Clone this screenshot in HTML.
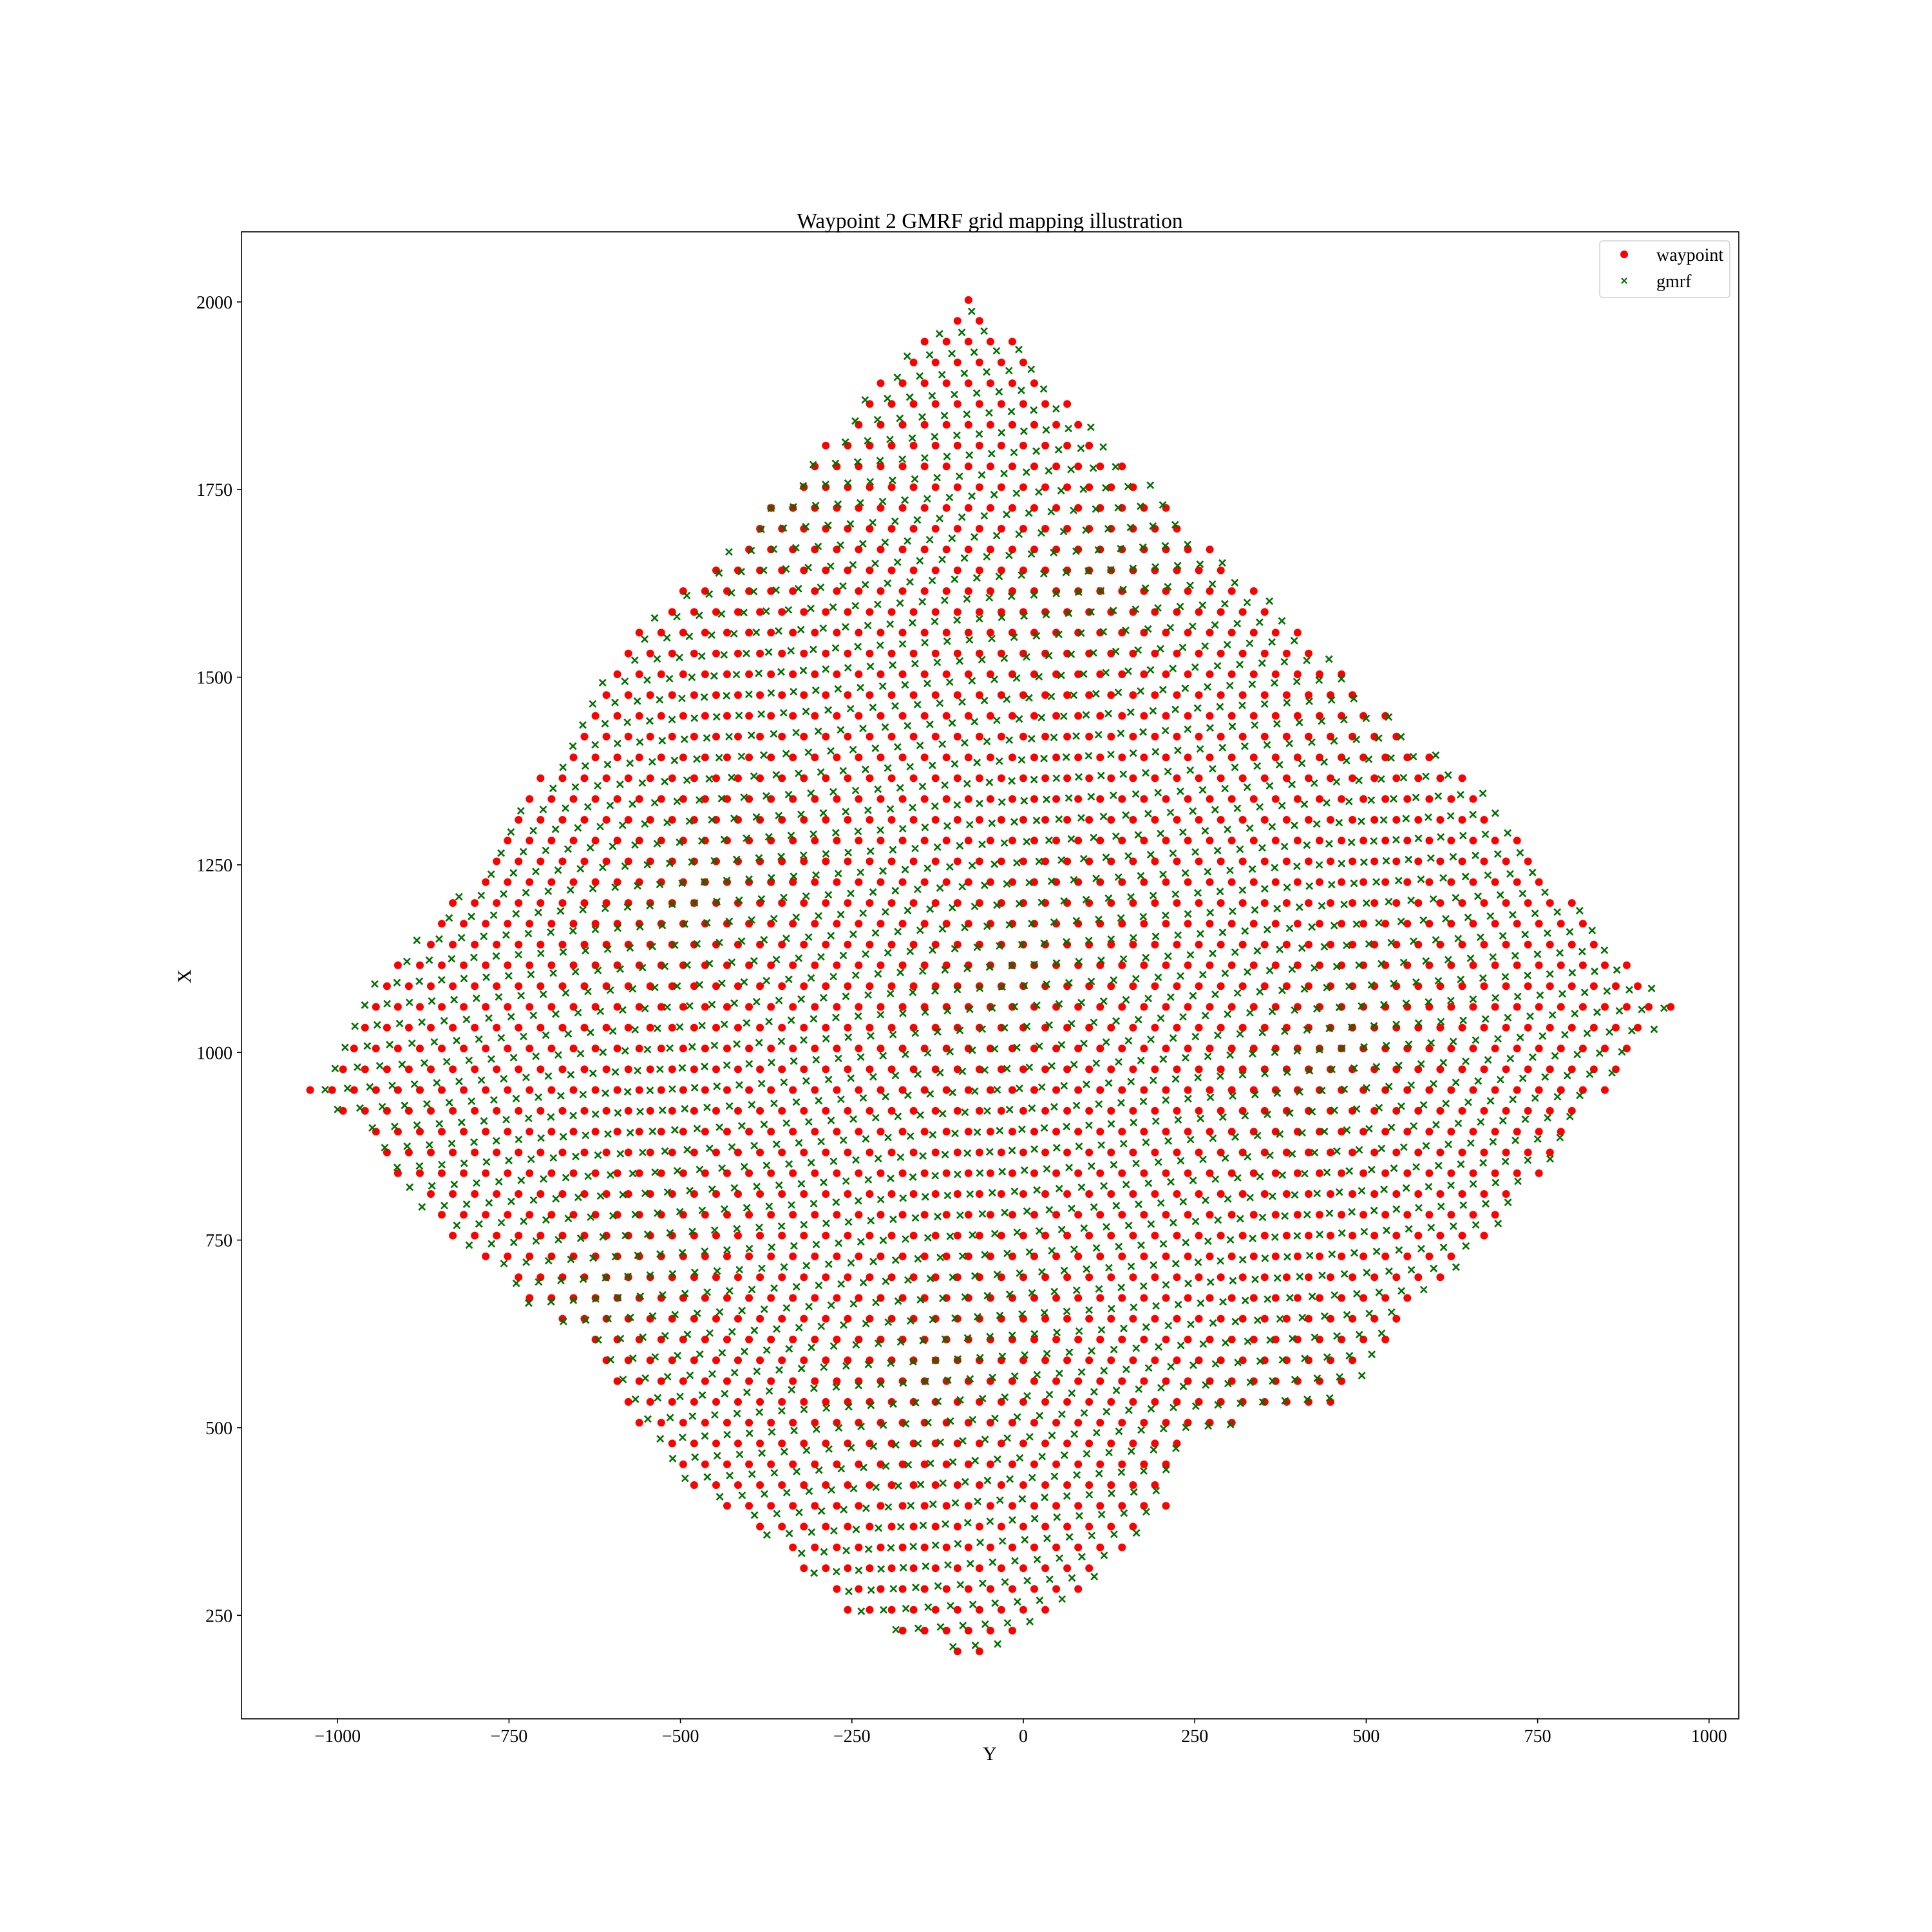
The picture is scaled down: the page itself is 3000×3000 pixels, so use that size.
<!DOCTYPE html>
<html><head><meta charset="utf-8"><style>
html,body{margin:0;padding:0;background:#fff;}
svg{display:block;font-family:"Liberation Serif","DejaVu Serif",serif;}
</style></head><body>
<svg id="chart" width="3000" height="3000" viewBox="0 0 3000 3000" xmlns="http://www.w3.org/2000/svg">
<rect x="0" y="0" width="3000" height="3000" fill="#fff"/>
<text x="1537" y="354" font-size="33.5" text-anchor="middle">Waypoint 2 GMRF grid mapping illustration</text>
<g id="marks"></g>
<g id="axes"></g>
<rect x="375" y="360" width="2325" height="2309" fill="none" stroke="#000" stroke-width="1.6"/>
<text x="1537" y="2733" font-size="30" text-anchor="middle">Y</text>
<text x="296" y="1516" font-size="30" text-anchor="middle" transform="rotate(-90 296 1516)">X</text>
<g>
<rect x="2484" y="374" width="202" height="88" rx="5" fill="#fff" fill-opacity="0.8" stroke="#d0d0d0" stroke-width="1.5"/>
<circle cx="2522" cy="395" r="6" fill="#ff0000"/>
<text x="2572" y="405" font-size="28">waypoint</text>
<path d="M2518 432 l8 8 M2526 432 l-8 8" stroke="#007000" stroke-width="2.2"/>
<text x="2572" y="446" font-size="28">gmrf</text>
</g>
</svg>
<script>
// Axis tick values
const xTicks = [-1000, -750, -500, -250, 0, 250, 500, 750, 1000];
const yTicks = [250, 500, 750, 1000, 1250, 1500, 1750, 2000];
// Region boundary (Y, X), going around the diamond
const boundaryY = [-80,-252,-414,-536,-648,-738,-845,-953,-1007,-1045,-971,-863,-738,-648,-594,-504,-396,-306,-252,-100,-62,71,125,215,215,269,377,466,538,592,700,826,950,844,754,664,556,466,386,287,197,125,71,-1,-55];
const boundaryX = [2010,1852,1680,1593,1450,1319,1187,1089,987,949,892,777,678,613,547,432,366,301,252,195,195,268,317,399,449,498,514,531,629,678,777,925,1061,1155,1253,1352,1434,1516,1581,1664,1746,1811,1861,1934,1992];
// Waypoint lattice parameters (units)
const wpRowStart = [202];
const wpRowStep = [27.7];
const wpColStep = [32];
const wpColOrigin = [-96];
// gmrf lattice parameters
const gmRowStep = [27.3];
const gmColStep = [32.6];
const gmAngleDeg = [3.5];

const L=375,R=2700,T=360,B=2669;
function sx(v){return 1589 + v*1.0648;}
function sy(v){return 2508.3 - (v-250)*1.1654;}
const NS='http://www.w3.org/2000/svg';
function inside(y,x){
  let c=false;const n=boundaryY.length;
  for(let i=0,j=n-1;i<n;j=i++){
    const yi=boundaryY[i],xi=boundaryX[i],yj=boundaryY[j],xj=boundaryX[j];
    if(((xi>x)!=(xj>x)) && (y < (yj-yi)*(x-xi)/(xj-xi)+yi)) c=!c;
  }
  return c;
}
const axes=document.getElementById('axes');
xTicks.forEach(t=>{
  const l=document.createElementNS(NS,'line');
  l.setAttribute('x1',sx(t));l.setAttribute('x2',sx(t));l.setAttribute('y1',B);l.setAttribute('y2',B+7);
  l.setAttribute('stroke','#000');l.setAttribute('stroke-width','1.6');
  
  
  axes.appendChild(l);
  const tx=document.createElementNS(NS,'text');
  tx.setAttribute('x',sx(t));tx.setAttribute('y',B+36);tx.setAttribute('font-size','28');tx.setAttribute('text-anchor','middle');
  tx.textContent=(t<0?'\u2212'+(-t):String(t));
  
  
  axes.appendChild(tx);
});
yTicks.forEach(t=>{
  const l=document.createElementNS(NS,'line');
  l.setAttribute('x1',L-7);l.setAttribute('x2',L);l.setAttribute('y1',sy(t));l.setAttribute('y2',sy(t));
  l.setAttribute('stroke','#000');l.setAttribute('stroke-width','1.6');
  
  
  axes.appendChild(l);
  const tx=document.createElementNS(NS,'text');
  tx.setAttribute('x',L-14);tx.setAttribute('y',sy(t)+10);tx.setAttribute('font-size','28');tx.setAttribute('text-anchor','end');
  tx.textContent=String(t);
  
  
  axes.appendChild(tx);
});
const marks=document.getElementById('marks');
let dots='';
for(let k=0;k<70;k++){
  const x=wpRowStart[0]+k*wpRowStep[0];
  const off=wpColOrigin[0]+(k%2)*wpColStep[0]/2;
  for(let j=-40;j<40;j++){
    const y=off+j*wpColStep[0];
    if(inside(y,x)) dots+=`M${(sx(y)-6).toFixed(1)} ${sy(x).toFixed(1)}a6 6 0 1 0 12 0a6 6 0 1 0 -12 0z`;
  }
}
const dp=document.createElementNS(NS,'path');
dp.setAttribute('d',dots);dp.setAttribute('fill','#ff0000');


marks.appendChild(dp);
let xs='';
const a=gmAngleDeg[0]*Math.PI/180,ca=Math.cos(a),sa=Math.sin(a);
for(let k=-50;k<120;k++){
  for(let j=-60;j<60;j++){
    const u=j*gmColStep[0]+(k%2?gmColStep[0]/2:0), v=k*gmRowStep[0];
    const y=-70+u*ca-v*sa*1.1, x=210+u*sa/1.1+v*ca;
    if(inside(y,x)){const px=sx(y),py=sy(x);xs+=`M${(px-5).toFixed(1)} ${(py-5).toFixed(1)}l10 10M${(px+5).toFixed(1)} ${(py-5).toFixed(1)}l-10 10`;}
  }
}
const xp=document.createElementNS(NS,'path');
xp.setAttribute('d',xs);xp.setAttribute('stroke','#007000');xp.setAttribute('stroke-width','2.6');xp.setAttribute('fill','none');


marks.appendChild(xp);
</script>
</body></html>
